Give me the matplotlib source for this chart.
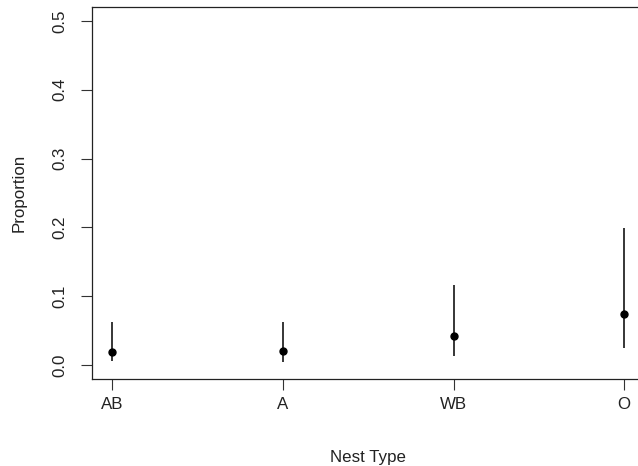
import matplotlib.pyplot as plt
import numpy as np

plt.rcParams['font.family'] = ['Liberation Sans', 'DejaVu Sans']

nest_types = ['AB', 'A', 'WB', 'O']
proportion = [0.019, 0.021, 0.042, 0.075]
lower = [0.006, 0.005, 0.0135, 0.025]
upper = [0.063, 0.063, 0.117, 0.199]

x = np.arange(1, len(nest_types) + 1)

fig = plt.figure(figsize=(6.38, 4.66), dpi=100)
ax = fig.add_axes([0.1442, 0.1867, 0.866, 0.7983])

ax.vlines(x, lower, upper, color='black', linewidth=1.1)
ax.plot(x, proportion, 'o', color='black', markersize=5)

ax.set_xlim(0.88, 4.12)
ax.set_ylim(-0.02, 0.52)
ax.set_xticks(x)
ax.set_xticklabels(nest_types)
ax.set_yticks([0.0, 0.1, 0.2, 0.3, 0.4, 0.5])
ax.set_yticklabels(['0.0', '0.1', '0.2', '0.3', '0.4', '0.5'], rotation=90, va='center')

ax.tick_params(axis='both', length=8, width=0.8, labelsize=12.2, color='#333333', labelcolor='#222222')
ax.tick_params(axis='x', pad=5)
ax.tick_params(axis='y', pad=10)

for s in ax.spines.values():
    s.set_linewidth(0.9)
    s.set_color('#222222')

ax.set_xlabel('Nest Type', fontsize=12.2, color='#222222', labelpad=27)
ax.set_ylabel('Proportion', fontsize=12.2, color='#222222', labelpad=18)

fig.savefig('out.png', dpi=100)
